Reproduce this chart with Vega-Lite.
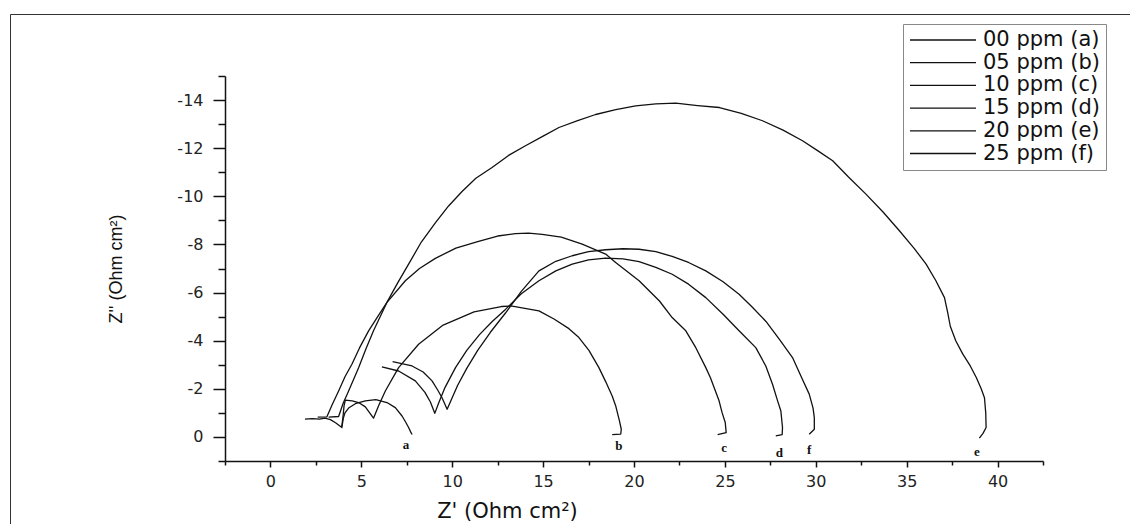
{
"$schema": "https://vega.github.io/schema/vega-lite/v6.json",
"width": 1130, "height": 520,
"autosize": {"type": "none"},
"padding": {"left": 10, "top": 14, "right": -10, "bottom": -10},
"background": "white",
"config": {"view": {"stroke": "#333", "strokeWidth": 1}},
"datasets": {
"curves": [
{"s":"00 ppm (a)","i":1,"x":1.9,"y":-0.74},{"s":"00 ppm (a)","i":2,"x":2.3,"y":-0.76},{"s":"00 ppm (a)","i":3,"x":2.7,"y":-0.74},{"s":"00 ppm (a)","i":4,"x":3.0,"y":-0.78},{"s":"00 ppm (a)","i":5,"x":3.3,"y":-0.72},{"s":"00 ppm (a)","i":6,"x":3.6,"y":-0.58},{"s":"00 ppm (a)","i":7,"x":3.93,"y":-0.39},{"s":"00 ppm (a)","i":8,"x":4.0,"y":-0.75},{"s":"00 ppm (a)","i":9,"x":4.1,"y":-1.0},{"s":"00 ppm (a)","i":10,"x":4.3,"y":-1.2},{"s":"00 ppm (a)","i":11,"x":4.67,"y":-1.38},{"s":"00 ppm (a)","i":12,"x":5.22,"y":-1.5},{"s":"00 ppm (a)","i":13,"x":5.8,"y":-1.55},{"s":"00 ppm (a)","i":14,"x":6.41,"y":-1.43},{"s":"00 ppm (a)","i":15,"x":6.87,"y":-1.22},{"s":"00 ppm (a)","i":16,"x":7.24,"y":-0.87},{"s":"00 ppm (a)","i":17,"x":7.45,"y":-0.6},{"s":"00 ppm (a)","i":18,"x":7.6,"y":-0.39},{"s":"00 ppm (a)","i":19,"x":7.72,"y":-0.2},{"s":"00 ppm (a)","i":20,"x":7.79,"y":-0.1},
{"s":"05 ppm (b)","i":1,"x":3.93,"y":-0.45},{"s":"05 ppm (b)","i":2,"x":4.0,"y":-0.9},{"s":"05 ppm (b)","i":3,"x":4.05,"y":-1.3},{"s":"05 ppm (b)","i":4,"x":4.12,"y":-1.53},{"s":"05 ppm (b)","i":5,"x":4.5,"y":-1.5},{"s":"05 ppm (b)","i":6,"x":4.85,"y":-1.43},{"s":"05 ppm (b)","i":7,"x":5.22,"y":-1.25},{"s":"05 ppm (b)","i":8,"x":5.49,"y":-0.97},{"s":"05 ppm (b)","i":9,"x":5.67,"y":-0.78},{"s":"05 ppm (b)","i":10,"x":5.95,"y":-1.3},{"s":"05 ppm (b)","i":11,"x":6.32,"y":-1.91},{"s":"05 ppm (b)","i":12,"x":7.05,"y":-2.88},{"s":"05 ppm (b)","i":13,"x":8.15,"y":-3.85},{"s":"05 ppm (b)","i":14,"x":9.5,"y":-4.65},{"s":"05 ppm (b)","i":15,"x":11.2,"y":-5.2},{"s":"05 ppm (b)","i":16,"x":12.7,"y":-5.42},{"s":"05 ppm (b)","i":17,"x":13.3,"y":-5.44},{"s":"05 ppm (b)","i":18,"x":14.77,"y":-5.24},{"s":"05 ppm (b)","i":19,"x":15.6,"y":-4.9},{"s":"05 ppm (b)","i":20,"x":16.42,"y":-4.5},{"s":"05 ppm (b)","i":21,"x":16.97,"y":-4.13},{"s":"05 ppm (b)","i":22,"x":17.52,"y":-3.6},{"s":"05 ppm (b)","i":23,"x":18.07,"y":-2.88},{"s":"05 ppm (b)","i":24,"x":18.44,"y":-2.3},{"s":"05 ppm (b)","i":25,"x":18.8,"y":-1.7},{"s":"05 ppm (b)","i":26,"x":18.99,"y":-1.3},{"s":"05 ppm (b)","i":27,"x":19.2,"y":-0.67},{"s":"05 ppm (b)","i":28,"x":19.3,"y":-0.32},{"s":"05 ppm (b)","i":29,"x":19.27,"y":-0.12},{"s":"05 ppm (b)","i":30,"x":18.8,"y":-0.1},
{"s":"10 ppm (c)","i":1,"x":2.6,"y":-0.82},{"s":"10 ppm (c)","i":2,"x":3.1,"y":-0.83},{"s":"10 ppm (c)","i":3,"x":3.4,"y":-1.35},{"s":"10 ppm (c)","i":4,"x":3.75,"y":-1.91},{"s":"10 ppm (c)","i":5,"x":4.1,"y":-2.5},{"s":"10 ppm (c)","i":6,"x":4.48,"y":-3.02},{"s":"10 ppm (c)","i":7,"x":4.9,"y":-3.7},{"s":"10 ppm (c)","i":8,"x":5.4,"y":-4.41},{"s":"10 ppm (c)","i":9,"x":5.9,"y":-5.0},{"s":"10 ppm (c)","i":10,"x":6.4,"y":-5.58},{"s":"10 ppm (c)","i":11,"x":7.42,"y":-6.49},{"s":"10 ppm (c)","i":12,"x":8.2,"y":-7.0},{"s":"10 ppm (c)","i":13,"x":9.07,"y":-7.42},{"s":"10 ppm (c)","i":14,"x":10.2,"y":-7.85},{"s":"10 ppm (c)","i":15,"x":11.4,"y":-8.12},{"s":"10 ppm (c)","i":16,"x":12.5,"y":-8.35},{"s":"10 ppm (c)","i":17,"x":13.48,"y":-8.45},{"s":"10 ppm (c)","i":18,"x":14.2,"y":-8.47},{"s":"10 ppm (c)","i":19,"x":14.95,"y":-8.42},{"s":"10 ppm (c)","i":20,"x":16.0,"y":-8.3},{"s":"10 ppm (c)","i":21,"x":17.15,"y":-8.01},{"s":"10 ppm (c)","i":22,"x":18.44,"y":-7.6},{"s":"10 ppm (c)","i":23,"x":18.99,"y":-7.25},{"s":"10 ppm (c)","i":24,"x":20.28,"y":-6.49},{"s":"10 ppm (c)","i":25,"x":21.4,"y":-5.65},{"s":"10 ppm (c)","i":26,"x":22.1,"y":-4.96},{"s":"10 ppm (c)","i":27,"x":22.85,"y":-4.41},{"s":"10 ppm (c)","i":28,"x":23.4,"y":-3.71},{"s":"10 ppm (c)","i":29,"x":23.95,"y":-2.88},{"s":"10 ppm (c)","i":30,"x":24.2,"y":-2.47},{"s":"10 ppm (c)","i":31,"x":24.68,"y":-1.5},{"s":"10 ppm (c)","i":32,"x":24.85,"y":-1.0},{"s":"10 ppm (c)","i":33,"x":25.02,"y":-0.6},{"s":"10 ppm (c)","i":34,"x":25.07,"y":-0.18},{"s":"10 ppm (c)","i":35,"x":24.6,"y":-0.1},
{"s":"15 ppm (d)","i":1,"x":6.13,"y":-2.91},{"s":"15 ppm (d)","i":2,"x":7.05,"y":-2.74},{"s":"15 ppm (d)","i":3,"x":7.97,"y":-2.33},{"s":"15 ppm (d)","i":4,"x":8.5,"y":-1.85},{"s":"15 ppm (d)","i":5,"x":8.8,"y":-1.45},{"s":"15 ppm (d)","i":6,"x":9.04,"y":-0.98},{"s":"15 ppm (d)","i":7,"x":9.25,"y":-1.4},{"s":"15 ppm (d)","i":8,"x":9.6,"y":-2.05},{"s":"15 ppm (d)","i":9,"x":10.18,"y":-2.88},{"s":"15 ppm (d)","i":10,"x":10.8,"y":-3.6},{"s":"15 ppm (d)","i":11,"x":11.5,"y":-4.25},{"s":"15 ppm (d)","i":12,"x":12.2,"y":-4.8},{"s":"15 ppm (d)","i":13,"x":12.93,"y":-5.3},{"s":"15 ppm (d)","i":14,"x":13.8,"y":-5.95},{"s":"15 ppm (d)","i":15,"x":14.77,"y":-6.49},{"s":"15 ppm (d)","i":16,"x":15.7,"y":-6.9},{"s":"15 ppm (d)","i":17,"x":16.6,"y":-7.18},{"s":"15 ppm (d)","i":18,"x":17.5,"y":-7.36},{"s":"15 ppm (d)","i":19,"x":18.44,"y":-7.43},{"s":"15 ppm (d)","i":20,"x":19.4,"y":-7.4},{"s":"15 ppm (d)","i":21,"x":20.28,"y":-7.29},{"s":"15 ppm (d)","i":22,"x":21.2,"y":-7.05},{"s":"15 ppm (d)","i":23,"x":22.1,"y":-6.76},{"s":"15 ppm (d)","i":24,"x":23.0,"y":-6.35},{"s":"15 ppm (d)","i":25,"x":23.95,"y":-5.79},{"s":"15 ppm (d)","i":26,"x":24.9,"y":-5.1},{"s":"15 ppm (d)","i":27,"x":25.78,"y":-4.41},{"s":"15 ppm (d)","i":28,"x":26.7,"y":-3.71},{"s":"15 ppm (d)","i":29,"x":27.25,"y":-2.95},{"s":"15 ppm (d)","i":30,"x":27.62,"y":-2.19},{"s":"15 ppm (d)","i":31,"x":27.9,"y":-1.5},{"s":"15 ppm (d)","i":32,"x":28.08,"y":-1.08},{"s":"15 ppm (d)","i":33,"x":28.17,"y":-0.39},{"s":"15 ppm (d)","i":34,"x":28.15,"y":-0.1},{"s":"15 ppm (d)","i":35,"x":27.8,"y":-0.04},
{"s":"20 ppm (e)","i":1,"x":3.2,"y":-0.82},{"s":"20 ppm (e)","i":2,"x":3.75,"y":-0.85},{"s":"20 ppm (e)","i":3,"x":4.0,"y":-1.4},{"s":"20 ppm (e)","i":4,"x":4.3,"y":-1.91},{"s":"20 ppm (e)","i":5,"x":4.85,"y":-2.88},{"s":"20 ppm (e)","i":6,"x":5.25,"y":-3.65},{"s":"20 ppm (e)","i":7,"x":5.67,"y":-4.41},{"s":"20 ppm (e)","i":8,"x":6.4,"y":-5.58},{"s":"20 ppm (e)","i":9,"x":7.0,"y":-6.4},{"s":"20 ppm (e)","i":10,"x":7.6,"y":-7.18},{"s":"20 ppm (e)","i":11,"x":8.3,"y":-8.1},{"s":"20 ppm (e)","i":12,"x":9.07,"y":-8.9},{"s":"20 ppm (e)","i":13,"x":9.8,"y":-9.6},{"s":"20 ppm (e)","i":14,"x":10.54,"y":-10.2},{"s":"20 ppm (e)","i":15,"x":11.3,"y":-10.75},{"s":"20 ppm (e)","i":16,"x":12.19,"y":-11.2},{"s":"20 ppm (e)","i":17,"x":13.1,"y":-11.7},{"s":"20 ppm (e)","i":18,"x":14.03,"y":-12.1},{"s":"20 ppm (e)","i":19,"x":15.0,"y":-12.5},{"s":"20 ppm (e)","i":20,"x":15.87,"y":-12.86},{"s":"20 ppm (e)","i":21,"x":16.9,"y":-13.15},{"s":"20 ppm (e)","i":22,"x":17.89,"y":-13.4},{"s":"20 ppm (e)","i":23,"x":19.0,"y":-13.6},{"s":"20 ppm (e)","i":24,"x":20.09,"y":-13.76},{"s":"20 ppm (e)","i":25,"x":21.2,"y":-13.84},{"s":"20 ppm (e)","i":26,"x":22.3,"y":-13.87},{"s":"20 ppm (e)","i":27,"x":23.5,"y":-13.77},{"s":"20 ppm (e)","i":28,"x":24.7,"y":-13.69},{"s":"20 ppm (e)","i":29,"x":25.9,"y":-13.45},{"s":"20 ppm (e)","i":30,"x":27.07,"y":-13.14},{"s":"20 ppm (e)","i":31,"x":28.2,"y":-12.75},{"s":"20 ppm (e)","i":32,"x":29.27,"y":-12.31},{"s":"20 ppm (e)","i":33,"x":30.1,"y":-11.9},{"s":"20 ppm (e)","i":34,"x":30.93,"y":-11.48},{"s":"20 ppm (e)","i":35,"x":31.8,"y":-10.8},{"s":"20 ppm (e)","i":36,"x":32.76,"y":-10.09},{"s":"20 ppm (e)","i":37,"x":33.7,"y":-9.35},{"s":"20 ppm (e)","i":38,"x":34.6,"y":-8.57},{"s":"20 ppm (e)","i":39,"x":35.4,"y":-7.85},{"s":"20 ppm (e)","i":40,"x":36.07,"y":-7.18},{"s":"20 ppm (e)","i":41,"x":36.6,"y":-6.5},{"s":"20 ppm (e)","i":42,"x":37.08,"y":-5.79},{"s":"20 ppm (e)","i":43,"x":37.25,"y":-5.2},{"s":"20 ppm (e)","i":44,"x":37.4,"y":-4.6},{"s":"20 ppm (e)","i":45,"x":37.7,"y":-4.0},{"s":"20 ppm (e)","i":46,"x":38.09,"y":-3.44},{"s":"20 ppm (e)","i":47,"x":38.5,"y":-2.95},{"s":"20 ppm (e)","i":48,"x":38.83,"y":-2.47},{"s":"20 ppm (e)","i":49,"x":39.1,"y":-2.0},{"s":"20 ppm (e)","i":50,"x":39.28,"y":-1.63},{"s":"20 ppm (e)","i":51,"x":39.35,"y":-1.0},{"s":"20 ppm (e)","i":52,"x":39.37,"y":-0.39},{"s":"20 ppm (e)","i":53,"x":39.2,"y":-0.15},{"s":"20 ppm (e)","i":54,"x":39.0,"y":0.05},
{"s":"25 ppm (f)","i":1,"x":6.72,"y":-3.13},{"s":"25 ppm (f)","i":2,"x":7.79,"y":-2.95},{"s":"25 ppm (f)","i":3,"x":8.4,"y":-2.7},{"s":"25 ppm (f)","i":4,"x":8.89,"y":-2.33},{"s":"25 ppm (f)","i":5,"x":9.2,"y":-1.95},{"s":"25 ppm (f)","i":6,"x":9.44,"y":-1.63},{"s":"25 ppm (f)","i":7,"x":9.72,"y":-1.15},{"s":"25 ppm (f)","i":8,"x":9.95,"y":-1.55},{"s":"25 ppm (f)","i":9,"x":10.3,"y":-2.15},{"s":"25 ppm (f)","i":10,"x":10.8,"y":-2.85},{"s":"25 ppm (f)","i":11,"x":11.4,"y":-3.6},{"s":"25 ppm (f)","i":12,"x":12.1,"y":-4.35},{"s":"25 ppm (f)","i":13,"x":12.93,"y":-5.15},{"s":"25 ppm (f)","i":14,"x":13.8,"y":-6.05},{"s":"25 ppm (f)","i":15,"x":14.77,"y":-6.9},{"s":"25 ppm (f)","i":16,"x":15.7,"y":-7.3},{"s":"25 ppm (f)","i":17,"x":16.6,"y":-7.53},{"s":"25 ppm (f)","i":18,"x":17.5,"y":-7.7},{"s":"25 ppm (f)","i":19,"x":18.44,"y":-7.78},{"s":"25 ppm (f)","i":20,"x":19.4,"y":-7.82},{"s":"25 ppm (f)","i":21,"x":20.28,"y":-7.8},{"s":"25 ppm (f)","i":22,"x":21.2,"y":-7.7},{"s":"25 ppm (f)","i":23,"x":22.1,"y":-7.5},{"s":"25 ppm (f)","i":24,"x":23.0,"y":-7.25},{"s":"25 ppm (f)","i":25,"x":23.95,"y":-6.9},{"s":"25 ppm (f)","i":26,"x":24.9,"y":-6.45},{"s":"25 ppm (f)","i":27,"x":25.78,"y":-5.93},{"s":"25 ppm (f)","i":28,"x":26.5,"y":-5.4},{"s":"25 ppm (f)","i":29,"x":27.26,"y":-4.8},{"s":"25 ppm (f)","i":30,"x":28.0,"y":-4.05},{"s":"25 ppm (f)","i":31,"x":28.72,"y":-3.3},{"s":"25 ppm (f)","i":32,"x":29.2,"y":-2.5},{"s":"25 ppm (f)","i":33,"x":29.64,"y":-1.78},{"s":"25 ppm (f)","i":34,"x":29.85,"y":-1.2},{"s":"25 ppm (f)","i":35,"x":29.92,"y":-0.8},{"s":"25 ppm (f)","i":36,"x":29.92,"y":-0.32},{"s":"25 ppm (f)","i":37,"x":29.64,"y":-0.11}
],
"tags": [
{"t":"a","x":7.46,"y":0.33},{"t":"b","x":19.17,"y":0.37},{"t":"c","x":24.96,"y":0.44},{"t":"d","x":27.99,"y":0.65},{"t":"f","x":29.64,"y":0.55},{"t":"e","x":38.86,"y":0.61}
]
},
"resolve": {"axis": {"y": "independent"}},
"layer": [
{
"data": {"name": "curves"},
"mark": {"type": "line", "strokeWidth": 1.3, "strokeJoin": "round"},
"encoding": {
"x": {"field": "x", "type": "quantitative",
 "scale": {"domain": [-2.5, 42.5], "range": [215, 1033], "nice": false, "zero": false},
 "axis": {"orient": "bottom", "offset": -73, "grid": false,
  "values": [-2.5,0,2.5,5,7.5,10,12.5,15,17.5,20,22.5,25,27.5,30,32.5,35,37.5,40,42.5],
  "labelExpr": "datum.value % 5 === 0 ? '' + datum.value : ''",
  "labelOverlap": false, "labelFlush": false, "labelBound": false,
  "tickSize": {"condition": {"test": "datum.value % 5 === 0", "value": 6}, "value": 4},
  "tickWidth": 1.5, "tickColor": "#111", "domainColor": "#111", "domainWidth": 1.5,
  "labelFont": "DejaVu Sans", "labelFontSize": 16, "labelColor": "#222", "labelPadding": 6,
  "title": "Z' (Ohm cm²)", "titleFont": "DejaVu Sans", "titleFontSize": 21, "titleFontWeight": "normal", "titleColor": "#111",
  "titleX": 497, "titleY": 56, "titleBaseline": "alphabetic", "titleAlign": "center"}},
"y": {"field": "y", "type": "quantitative",
 "scale": {"domain": [1, -15], "range": [447, 62], "nice": false, "zero": false},
 "axis": {"orient": "left", "offset": -215, "grid": false,
  "values": [0,-2,-4,-6,-8,-10,-12,-14],
  "labelExpr": "datum.value === 0 ? '0' : '-' + (-datum.value)",
  "labelOverlap": false, "labelFlush": false, "labelBound": false,
  "tickSize": 12,
  "tickWidth": 1.5, "tickColor": "#111", "domainColor": "#111", "domainWidth": 1.5,
  "labelFont": "DejaVu Sans", "labelFontSize": 16, "labelColor": "#222", "labelPadding": 10,
  "title": "Z'' (Ohm cm²)", "titleFont": "Liberation Sans", "titleFontSize": 18, "titleFontWeight": "normal", "titleColor": "#111",
  "titleX": -104, "titleY": 254.5, "titleAngle": -90, "titleBaseline": "alphabetic", "titleAlign": "center"}},
"stroke": {"field": "s", "type": "nominal",
 "scale": {"domain": ["00 ppm (a)","05 ppm (b)","10 ppm (c)","15 ppm (d)","20 ppm (e)","25 ppm (f)"], "range": ["#111","#111","#111","#111","#111","#111"]},
 "legend": {"orient": "none", "legendX": 893, "legendY": 10, "title": null,
  "symbolType": "stroke", "symbolSize": 4356, "symbolStrokeWidth": 1.3, "symbolStrokeColor": "#111",
  "labelFont": "DejaVu Sans", "labelFontSize": 21, "labelColor": "#111", "labelOffset": 6, "labelLimit": 0,
  "clipHeight": 20, "rowPadding": 1.7, "padding": 6, "strokeColor": "#888", "fillColor": "white"}},
"order": {"field": "i", "type": "quantitative"}
}
},
{
"data": {"name": "tags"},
"mark": {"type": "text", "font": "Liberation Serif", "fontWeight": "bold", "fontSize": 13, "color": "#111"},
"encoding": {
"x": {"field": "x", "type": "quantitative"},
"y": {"field": "y", "type": "quantitative",
 "axis": {"orient": "left", "offset": -215, "grid": false, "domain": false, "labels": false, "title": null,
  "values": [1,-1,-3,-5,-7,-9,-11,-13,-15], "tickSize": 7, "tickWidth": 1.5, "tickColor": "#111"}},
"text": {"field": "t"}
}
}
]
}
